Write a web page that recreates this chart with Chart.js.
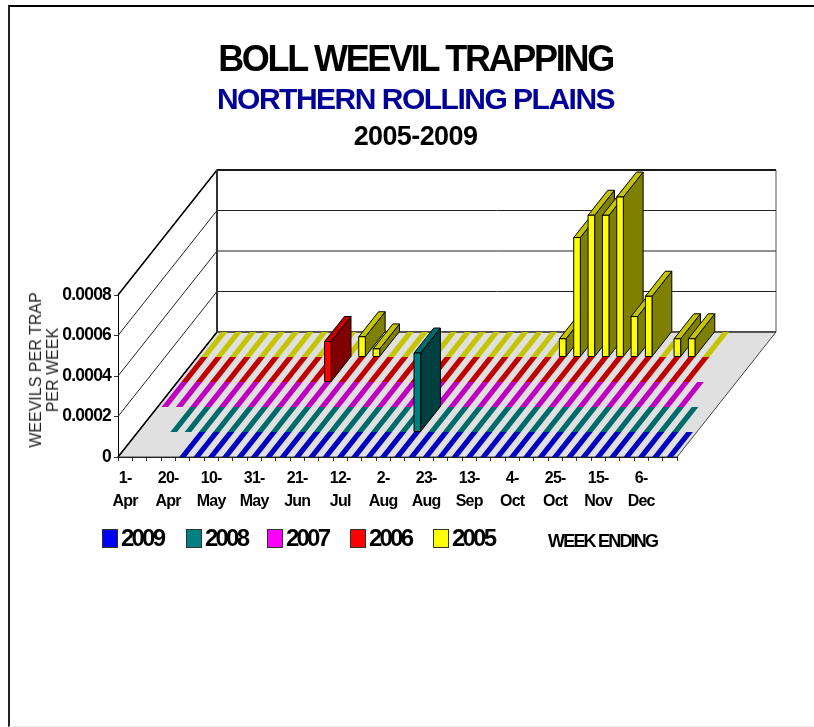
<!DOCTYPE html>
<html>
<head>
<meta charset="utf-8">
<title>Boll weevil trapping</title>
<script src="https://cdn.jsdelivr.net/npm/chart.js@4/dist/chart.umd.js"></script>
<style>
  html, body { margin: 0; padding: 0; background: #fff; overflow: hidden; }
  #page { position: relative; width: 814px; height: 727px; font-family: "Liberation Sans", Arial, sans-serif; color: #000; }
  #frame { position: absolute; left: 8px; top: 5px; right: -5px; bottom: 0; border-left: 2px solid #222; border-top: 2px solid #000; border-bottom: 1px solid #eee; }
  canvas { position: absolute; left: 0; top: 0; }
  .head { position: absolute; left: 0; width: 831px; text-align: center; font-weight: bold; white-space: nowrap; }
  #t1 { top: 38px; font-size: 36px; line-height: 42px; letter-spacing: -2.3px; }
  #t2 { top: 81px; font-size: 30px; line-height: 36px; letter-spacing: -1.5px; color: #000099; }
  #t3 { top: 121px; font-size: 27px; line-height: 30px; letter-spacing: -0.6px; }
  #ytitle { position: absolute; left: 44px; top: 370px; transform: translate(-50%, -50%) rotate(-90deg); font-size: 16px; line-height: 17px; text-align: center; color: #222; white-space: nowrap; }
  #xtitle { position: absolute; left: 548px; top: 531px; font-size: 18px; line-height: 20px; font-weight: bold; letter-spacing: -1.8px; white-space: nowrap; }
  #legend { position: absolute; left: 102px; top: 529px; height: 19px; }
  .item { position: absolute; top: 0; height: 19px; white-space: nowrap; }
  .item i { position: absolute; left: 0; top: 0; width: 14px; height: 17px; border: 1px solid #333; }
  .item span { position: absolute; left: 19px; top: -5px; font-size: 24px; line-height: 28px; font-weight: bold; letter-spacing: -2.8px; }
</style>
</head>
<body>
<div id="page">
  <div id="frame"></div>
  <canvas id="myChart" width="814" height="727"></canvas>
  <div class="head" id="t1">BOLL WEEVIL TRAPPING</div>
  <div class="head" id="t2">NORTHERN ROLLING PLAINS</div>
  <div class="head" id="t3">2005-2009</div>
  <div id="ytitle">WEEVILS PER TRAP<br>PER WEEK</div>
  <div id="xtitle">WEEK ENDING</div>
  <div id="legend"></div>
</div>
<script>
let weekLabels = [
    ["1-", "Apr"], "", "", ["20-", "Apr"], "", "", ["10-", "May"], "", "", ["31-", "May"], "", "", ["21-", "Jun"], "", "",
    ["12-", "Jul"], "", "", ["2-", "Aug"], "", "", ["23-", "Aug"], "", "", ["13-", "Sep"], "", "", ["4-", "Oct"], "", "",
    ["25-", "Oct"], "", "", ["15-", "Nov"], "", "", ["6-", "Dec"], "", ""
];
let seriesNames = ["2009", "2008", "2007", "2006", "2005"];
let valueTicks = [0, 0.0002, 0.0004, 0.0006, 0.0008];

let values2009 = [null, null, null, null, 0, 0, 0, 0, 0, 0, 0, 0, 0, 0, 0, 0, 0, 0, 0, 0, 0, 0, 0, 0, 0, 0, 0, 0, 0, 0, 0, 0, 0, 0, 0, 0, 0, 0, 0];
let values2008 = [null, null, 0, 0, 0, 0, 0, 0, 0, 0, 0, 0, 0, 0, 0, 0, 0, 0, 0, 0.00039, 0, 0, 0, 0, 0, 0, 0, 0, 0, 0, 0, 0, 0, 0, 0, 0, 0, 0, null];
let values2007 = [0, 0, 0, 0, 0, 0, 0, 0, 0, 0, 0, 0, 0, 0, 0, 0, 0, 0, 0, 0, 0, 0, 0, 0, 0, 0, 0, 0, 0, 0, 0, 0, 0, 0, 0, 0, 0, null, null];
let values2006 = [0, 0, 0, 0, 0, 0, 0, 0, 0, 0, 0.0002, 0, 0, 0, 0, 0, 0, 0, 0, 0, 0, 0, 0, 0, 0, 0, 0, 0, 0, 0, 0, 0, 0, 0, 0, 0, null, null, null];
let values2005 = [0, 0, 0, 0, 0, 0, 0, 0, 0, 0, 0, 0.0001, 0.00004, 0, 0, 0, 0, 0, 0, 0, 0, 0, 0, 0, 0, 0.00009, 0.00059, 0.0007, 0.0007, 0.00079, 0.0002, 0.0003, 0, 0.00009, 0.00009, 0, null, null, null];
let seriesValues = [values2009, values2008, values2007, values2006, values2005];

let frontColors = ["#0000ff", "#008080", "#ff00ff", "#ff0000", "#ffff00"];
let topColors = ["#0000c0", "#006b6b", "#c000c0", "#c00000", "#c4c400"];
let sideColors = ["#000080", "#004040", "#800080", "#800000", "#808000"];

// depth of the floor, front-left corner to back-left corner
const depthX = 99;
const depthY = -125;
const rows = seriesNames.length;

function poly(ctx, pts, fill, stroke) {
    ctx.beginPath();
    ctx.moveTo(pts[0][0], pts[0][1]);
    pts.slice(1).forEach(p => ctx.lineTo(p[0], p[1]));
    ctx.closePath();
    if (fill) { ctx.fillStyle = fill; ctx.fill(); }
    if (stroke) { ctx.strokeStyle = stroke; ctx.stroke(); }
}

function line(ctx, pts, width, color) {
    ctx.beginPath();
    ctx.moveTo(pts[0][0], pts[0][1]);
    pts.slice(1).forEach(p => ctx.lineTo(p[0], p[1]));
    ctx.lineWidth = width;
    ctx.strokeStyle = color;
    ctx.stroke();
}

const threeD = {
    id: "threeD",
    beforeLayout(chart) { chart.ctx.letterSpacing = "-0.8px"; },
    beforeDraw(chart) { chart.ctx.letterSpacing = "-0.8px"; },
    // walls and floor, behind all the bars
    beforeDatasetsDraw(chart) {
        const ctx = chart.ctx;
        const { left, right, bottom, top } = chart.chartArea;
        ctx.save();
        ctx.lineWidth = 1;
        poly(ctx, [[left + depthX, top + depthY], [right + depthX, top + depthY], [right + depthX, bottom + depthY], [left + depthX, bottom + depthY]], "#fff", "#555");
        poly(ctx, [[left, bottom], [right, bottom], [right + depthX, bottom + depthY], [left + depthX, bottom + depthY]], "#e0e0e0", "#444");
        const yScale = chart.scales.y;
        valueTicks.forEach(v => {
            const y = yScale.getPixelForValue(v);
            line(ctx, [[left, y], [left + depthX, y + depthY], [right + depthX, y + depthY]], 1, "#222");
        });
        line(ctx, [[left, top], [left + depthX, top + depthY], [right + depthX, top + depthY]], 1.5, "#000");
        line(ctx, [[left, bottom], [left + depthX, bottom + depthY]], 1.5, "#000");
        line(ctx, [[left + depthX, top + depthY], [left + depthX, bottom + depthY]], 2, "#333");
        ctx.restore();
    },
    // each bar is read from the chart's own bar element, then pushed back into its row
    beforeDatasetDraw(chart, args) {
        const ctx = chart.ctx;
        const row = args.index;
        const offX = depthX / rows;
        const offY = depthY / rows;
        const values = chart.data.datasets[row].data;
        ctx.save();
        args.meta.data.forEach((bar, i) => {
            if (values[i] === null) return;
            const x0 = bar.x - bar.width / 2 + row * offX;
            const x1 = bar.x + bar.width / 2 + row * offX;
            const yTop = bar.y + row * offY;
            const yBase = bar.base + row * offY;
            if (values[i] === 0) {
                poly(ctx, [[x0, yBase], [x1, yBase], [x1 + offX, yBase + offY], [x0 + offX, yBase + offY]], topColors[row]);
                return;
            }
            ctx.lineWidth = 1;
            poly(ctx, [[x1, yTop], [x1 + offX, yTop + offY], [x1 + offX, yBase + offY], [x1, yBase]], sideColors[row], "#000");
            poly(ctx, [[x0, yTop], [x1, yTop], [x1 + offX, yTop + offY], [x0 + offX, yTop + offY]], topColors[row], "#000");
            poly(ctx, [[x0, yTop], [x1, yTop], [x1, yBase], [x0, yBase]], frontColors[row], "#000");
        });
        ctx.restore();
        return false;
    }
};

let chart = new Chart(document.getElementById("myChart"), {
    type: "bar",
    data: {
        labels: weekLabels,
        datasets: seriesNames.map((name, i) => ({
            label: name,
            data: seriesValues[i],
            backgroundColor: frontColors[i],
            grouped: false,
            categoryPercentage: 1,
            barPercentage: 0.46
        }))
    },
    options: {
        responsive: false,
        animation: false,
        layout: { padding: { left: 58, right: 137, top: 295, bottom: 210 } },
        plugins: {
            legend: { display: false },
            title: { display: false },
            tooltip: { enabled: false }
        },
        scales: {
            x: {
                offset: true,
                grid: { offset: true, drawOnChartArea: false, drawTicks: true, tickLength: 4, color: "#333" },
                border: { color: "#000", width: 1 },
                ticks: {
                    autoSkip: false, maxRotation: 0, minRotation: 0, padding: 6, color: "#000",
                    font: { family: "'Liberation Sans', Arial, sans-serif", size: 16, weight: "bold", lineHeight: 1.44 }
                },
                afterFit(scale) { scale.height = 60; }
            },
            y: {
                min: 0,
                max: 0.0008,
                grid: { drawOnChartArea: false, drawTicks: true, tickLength: 4, color: "#333" },
                border: { color: "#000", width: 1 },
                afterBuildTicks(scale) { scale.ticks = valueTicks.map(v => ({ value: v })); },
                ticks: {
                    padding: 3, color: "#000",
                    font: { family: "'Liberation Sans', Arial, sans-serif", size: 17.5, weight: "bold" },
                    callback: v => (v === 0 ? "0" : v.toFixed(4))
                },
                afterFit(scale) { scale.width = 60; }
            }
        }
    },
    plugins: [threeD]
});

// legend built from the chart's datasets
let legendLeft = [0, 84, 165, 248, 331];
let legendBox = document.getElementById("legend");
chart.data.datasets.forEach((ds, i) => {
    let item = document.createElement("div");
    item.className = "item";
    item.style.left = legendLeft[i] + "px";
    let swatch = document.createElement("i");
    swatch.style.background = ds.backgroundColor;
    let text = document.createElement("span");
    text.textContent = ds.label;
    item.appendChild(swatch);
    item.appendChild(text);
    legendBox.appendChild(item);
});
</script>
</body>
</html>
